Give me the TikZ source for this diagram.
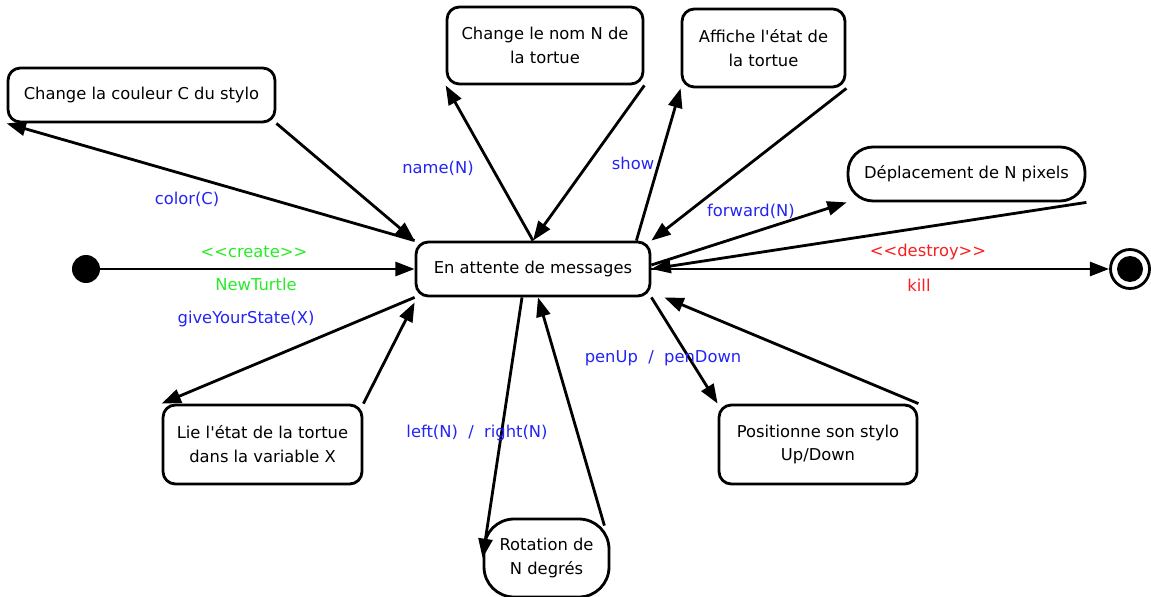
\documentclass[tikz,border=0pt]{standalone}
\usepackage{fontspec}
\setmainfont{DejaVu Sans}
\usetikzlibrary{arrows.meta,positioning}
\definecolor{BleuMsg}{RGB}{35,35,245}
\definecolor{VertCreer}{RGB}{40,235,40}
\definecolor{RougeFin}{RGB}{250,30,30}

\begin{document}
\begin{tikzpicture}[x=0.02cm,y=-0.02cm,>={Triangle[length=11pt,width=8pt]},
  every node/.style={font=\fontsize{9.3}{13.6}\selectfont},
  etat/.style={draw,line width=1.6pt,rounded corners=7pt,align=center,inner sep=2pt},
  trans/.style={->,line width=1.6pt},
  msg/.style={text=BleuMsg}]
  \useasboundingbox (0,0) rectangle (1151,597);
  \node[etat,minimum width=4.68cm,minimum height=1.08cm] (attente) at (533,269) {En attente de messages};
  \node[etat,minimum width=5.34cm,minimum height=1.08cm] (couleur) at (141.5,95) {Change la couleur C du stylo};
  \node[etat,minimum width=3.92cm,minimum height=1.54cm] (nom) at (545,45.5) {Change le nom N de\\la tortue};
  \node[etat,minimum width=3.26cm,minimum height=1.56cm] (affiche) at (763.5,48) {Affiche l\textquotesingle état de\\la tortue};
  \node[etat,rounded corners=0.5cm,minimum width=4.74cm,minimum height=1.08cm] (deplacement) at (966.5,174) {Déplacement de N pixels};
  \node[etat,minimum width=3.98cm,minimum height=1.58cm] (lie) at (262.5,444.5) {Lie l\textquotesingle état de la tortue\\dans la variable X};
  \node[etat,rounded corners=0.6cm,minimum width=2.5cm,minimum height=1.56cm] (rotation) at (546.5,558) {Rotation de\\N degrés};
  \node[etat,minimum width=3.96cm,minimum height=1.58cm] (positionne) at (818,444.5) {Positionne son stylo\\Up/Down};
  \node[fill,circle,minimum size=0.56cm,inner sep=0pt] (debut) at (86,269) {};
  \node[draw,circle,line width=1.6pt,minimum size=0.78cm,inner sep=0pt] (fin) at (1130,269) {};
  \node[fill,circle,minimum size=0.52cm,inner sep=0pt] (finpoint) at (fin) {};

  \draw[trans] (couleur.south east) -- (attente.north west);
  \draw[trans] (attente.north west) -- (couleur.south west);
  \draw[trans] (attente.north) -- (nom.south west);
  \draw[trans] (nom.south east) -- (attente.north);
  \draw[trans] ([xshift=-0.3cm]attente.north east) -- (affiche.south west);
  \draw[trans] (affiche.south east) -- (attente.north east);
  \draw[trans] ([yshift=0.08cm]attente.east) -- (deplacement.south west);
  \draw[trans] (deplacement.south east) -- (attente.east);
  \draw[trans] (attente.east) -- (fin);
  \draw[trans] (debut) -- (attente.west);
  \draw[trans] (attente.south west) -- (lie.north west);
  \draw[trans] (lie.north east) -- ([yshift=-0.1cm]attente.south west);
  \draw[trans] ([xshift=-0.22cm]attente.south) -- (rotation.west);
  \draw[trans] ([xshift=-0.12cm,yshift=-0.16cm]rotation.north east) -- ([xshift=0.1cm]attente.south);
  \draw[trans] (attente.south east) -- (positionne.north west);
  \draw[trans] (positionne.north east) -- ([xshift=0.26cm]attente.south east);

  \node[msg] (lname) at (438,168) {name(N)};
  \node[msg] (lcolor) at (187,199) {color(C)};
  \node[msg] (lshow) at (633,163) {show};
  \node[msg] (lforward) at (751,211) {forward(N)};
  \node[text=VertCreer] (lcreate) at (254,252) {<{}<create>{}>};
  \node[text=VertCreer] (lnew) at (256,284) {NewTurtle};
  \node[text=RougeFin] (ldestroy) at (928,252) {<{}<destroy>{}>};
  \node[text=RougeFin] (lkill) at (919,285) {kill};
  \node[msg] (lgive) at (246,319) {giveYourState(X)};
  \node[msg] (lleft) at (477,433) {left(N)\ \ /\ \ right(N)};
  \node[msg] (lpen) at (663,358) {penUp\ \ /\ \ penDown};
\end{tikzpicture}
\end{document}
